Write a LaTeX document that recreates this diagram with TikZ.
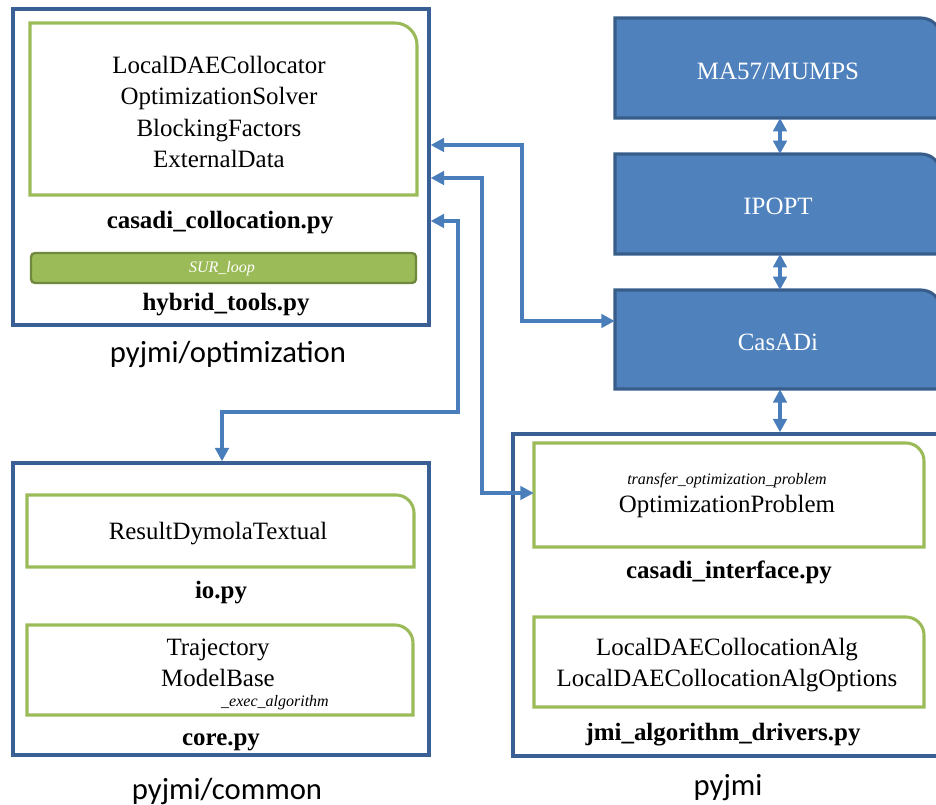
\documentclass[tikz,border=0pt]{standalone}
\usepackage{fontspec}
\setmainfont{Liberation Serif}
\newfontfamily\labfont{Carlito}
\usetikzlibrary{arrows.meta,fit,calc}
\definecolor{obord}{HTML}{3A5F94}
\definecolor{grn}{HTML}{9BBB59}
\definecolor{grndark}{HTML}{71893F}
\definecolor{bfill}{HTML}{4F81BD}
\definecolor{bbord}{HTML}{385D8A}
\definecolor{arr}{HTML}{4A7EBB}
\newcommand\cbox[7]{% style, name, x1,y1,x2,y2, radius
  \node[fit={(#3,#4)(#5,#6)},inner sep=0pt] (#2) {};
  \path[#1] (#3,#6) -- (#3,#4) -- ($(#5,#4)+(-#7,0)$)
    .. controls ($(#5,#4)+(-0.45*#7,0)$) and ($(#5,#4)+(0,0.45*#7)$) .. ($(#5,#4)+(0,#7)$)
    -- (#5,#6) -- cycle;}
\begin{document}
\begin{tikzpicture}[x=0.75pt,y=-0.75pt,
  outerbox/.style={draw=obord,line width=2.5pt,inner sep=0pt},
  grline/.style={draw=grn,line width=2.3pt},
  solverbox/.style={fill=bfill,draw=bbord,line width=2.3pt},
  txt/.style={font=\fontsize{18.7}{23.3}\selectfont,align=center,inner sep=0pt},
  btxt/.style={font=\bfseries\fontsize{18.7}{23.3}\selectfont,inner sep=0pt},
  wtxt/.style={font=\fontsize{18.7}{23.3}\selectfont,text=white,inner sep=0pt},
  itxt/.style={font=\itshape\fontsize{12}{14}\selectfont,inner sep=0pt},
  lab/.style={font=\labfont\fontsize{23}{28}\selectfont,inner sep=0pt},
  conn/.style={draw=arr,line width=2.7pt,{Triangle[length=10pt,width=10pt]}-{Triangle[length=10pt,width=10pt]}}]
\clip (0,0) rectangle (936,805);
\useasboundingbox (0,0) rectangle (936,805);

% ---------- pyjmi/optimization ----------
\node[outerbox,fit={(13,9)(429,325)}] (opt) {};
\cbox{grline}{gcoll}{30}{23}{417}{195}{22}
\node[txt] (colltxt) at (219,112) {LocalDAECollocator\\OptimizationSolver\\BlockingFactors\\ExternalData};
\node[btxt] (collpy) at (220,223) {casadi\_collocation.py};
\node[fill=grn,draw=grndark,line width=1.8pt,rounded corners=3pt,fit={(31,253)(416,283)},inner sep=0pt] (sur) {};
\node[itxt,text=white] (surtxt) at (222,269) {SUR\_loop};
\node[btxt] (hybpy) at (226,305) {hybrid\_tools.py};
\node[lab] (optlab) at (228,354) {pyjmi/optimization};

% ---------- solver stack ----------
\cbox{solverbox}{ma}{615}{18}{941}{118}{20}
\node[wtxt] (matxt) at (778,71) {MA57/MUMPS};
\cbox{solverbox}{ip}{615}{154}{941}{254}{20}
\node[wtxt] (iptxt) at (778,206) {IPOPT};
\cbox{solverbox}{cas}{615}{290}{941}{389}{20}
\node[wtxt] (castxt) at (778,342) {CasADi};

% ---------- pyjmi/common ----------
\node[outerbox,fit={(13,463)(429,755)}] (com) {};
\cbox{grline}{gio}{27}{495}{414}{567}{18}
\node[txt] (iotxt) at (218,534) {ResultDymolaTextual};
\node[btxt] (iopy) at (221,593) {io.py};
\cbox{grline}{gcore}{27}{625}{413}{715}{18}
\node[txt] (coretxt) at (218,663) {Trajectory\\ModelBase};
\node[itxt] (exectxt) at (275,703) {\_exec\_algorithm};
\node[btxt] (corepy) at (221,742) {core.py};
\node[lab] (comlab) at (227,791) {pyjmi/common};

% ---------- pyjmi ----------
\node[outerbox,fit={(513,434)(950,756)}] (pj) {};
\cbox{grline}{gci}{534}{443}{924}{547}{18}
\node[itxt] (trtxt) at (727,481) {transfer\_optimization\_problem};
\node[txt] (optprob) at (727,507) {OptimizationProblem};
\node[btxt] (cipy) at (729,572) {casadi\_interface.py};
\cbox{grline}{galg}{534}{617}{924}{707}{18}
\node[txt] (algtxt) at (727,665) {LocalDAECollocationAlg\\LocalDAECollocationAlgOptions};
\node[btxt] (algpy) at (723,735) {jmi\_algorithm\_drivers.py};
\node[lab] (pjlab) at (728,788) {pyjmi};

% ---------- connectors ----------
\draw[conn] (780,118) -- (780,154);
\draw[conn] (780,254) -- (780,290);
\draw[conn] (cas.south -| 780,0) -- (pj.north -| 780,0);
\draw[conn] (opt.east |- 0,145) -- (522,145) |- (cas.west |- 0,321);
\draw[conn] (opt.east |- 0,178) -- (482,178) |- (gci.west |- 0,493);
\draw[conn] (opt.east |- 0,221) -- (458,221) |- (222,412) -- (com.north -| 222,0);
\end{tikzpicture}
\end{document}
